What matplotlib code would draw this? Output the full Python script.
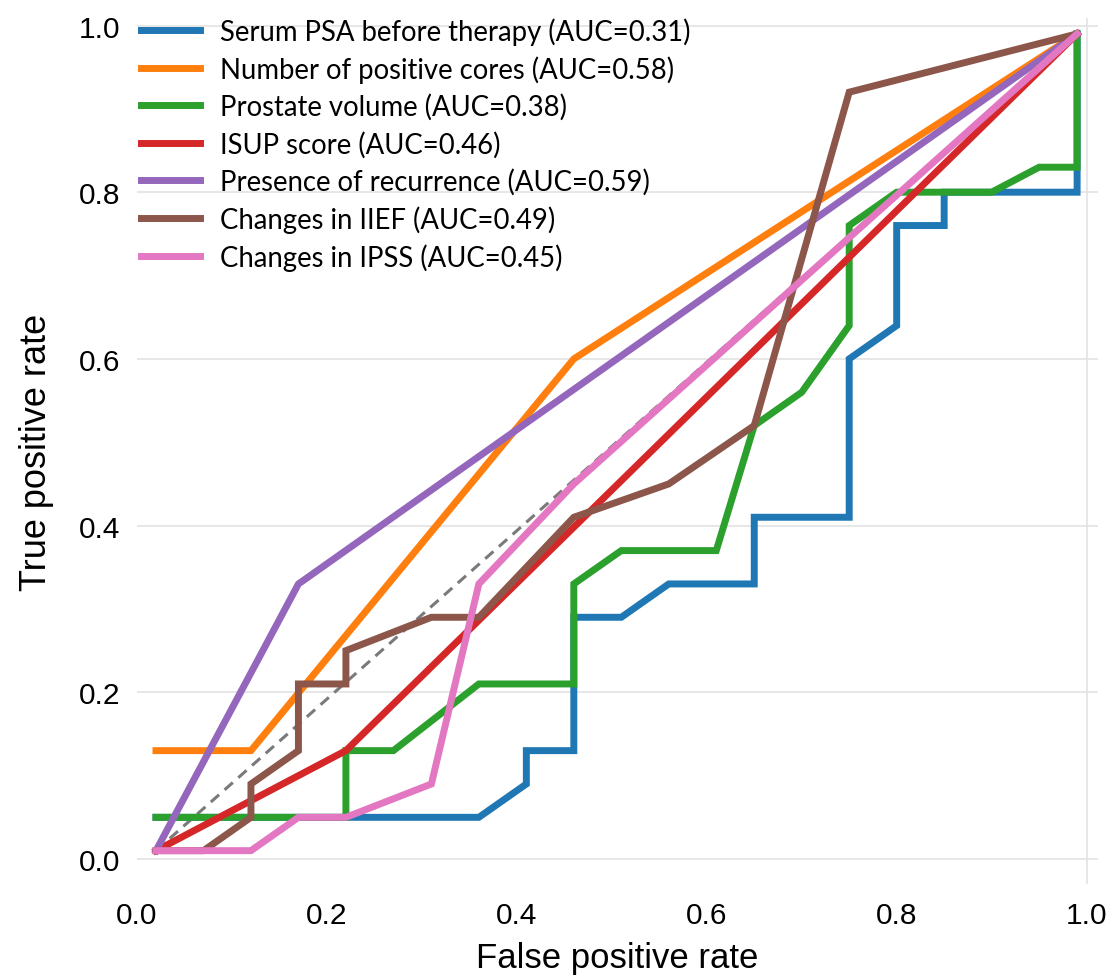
import matplotlib
matplotlib.use("Agg")
import matplotlib.pyplot as plt

# ---- data ----
labels = [
    "Serum PSA before therapy (AUC=0.31)",
    "Number of positive cores (AUC=0.58)",
    "Prostate volume (AUC=0.38)",
    "ISUP score (AUC=0.46)",
    "Presence of recurrence (AUC=0.59)",
    "Changes in IIEF (AUC=0.49)",
    "Changes in IPSS (AUC=0.45)",
]
colors = ["#1f77b4", "#ff7f0e", "#2ca02c", "#d62728", "#9467bd", "#8c564b", "#e377c2"]

psa_x = [0.02, 0.22, 0.36, 0.41, 0.41, 0.46, 0.46, 0.51, 0.56, 0.65, 0.65, 0.75, 0.75, 0.80, 0.80, 0.85, 0.85, 0.99, 0.99]
psa_y = [0.05, 0.05, 0.05, 0.09, 0.13, 0.13, 0.29, 0.29, 0.33, 0.33, 0.41, 0.41, 0.60, 0.64, 0.76, 0.76, 0.80, 0.80, 0.99]

cores_x = [0.02, 0.12, 0.46, 0.99]
cores_y = [0.13, 0.13, 0.60, 0.99]

vol_x = [0.02, 0.22, 0.22, 0.27, 0.36, 0.46, 0.46, 0.51, 0.61, 0.65, 0.70, 0.75, 0.75, 0.80, 0.90, 0.95, 0.99, 0.99]
vol_y = [0.05, 0.05, 0.13, 0.13, 0.21, 0.21, 0.33, 0.37, 0.37, 0.52, 0.56, 0.64, 0.76, 0.80, 0.80, 0.83, 0.83, 0.99]

isup_x = [0.02, 0.22, 0.99]
isup_y = [0.01, 0.13, 0.99]

rec_x = [0.02, 0.17, 0.99]
rec_y = [0.01, 0.33, 0.99]

iief_x = [0.02, 0.07, 0.12, 0.12, 0.17, 0.17, 0.22, 0.22, 0.31, 0.36, 0.46, 0.56, 0.65, 0.75, 0.99]
iief_y = [0.01, 0.01, 0.05, 0.09, 0.13, 0.21, 0.21, 0.25, 0.29, 0.29, 0.41, 0.45, 0.52, 0.92, 0.99]

ipss_x = [0.02, 0.12, 0.17, 0.22, 0.31, 0.36, 0.46, 0.99]
ipss_y = [0.01, 0.01, 0.05, 0.05, 0.09, 0.33, 0.45, 0.99]

chance_x = [0.02, 0.99]
chance_y = [0.01, 0.99]

xticks = [0.0, 0.2, 0.4, 0.6, 0.8, 1.0]
yticks = [0.0, 0.2, 0.4, 0.6, 0.8, 1.0]

series = [(psa_x, psa_y), (cores_x, cores_y), (vol_x, vol_y), (isup_x, isup_y),
          (rec_x, rec_y), (iief_x, iief_y), (ipss_x, ipss_y)]

# ---- figure ----
W, H = 1113, 978
fig = plt.figure(figsize=(W / 100, H / 100), dpi=100)
ax_left, ax_right = 137, 1098
ax_top, ax_bottom = 19, 885
ax = fig.add_axes([ax_left / W, 1 - ax_bottom / H, (ax_right - ax_left) / W, (ax_bottom - ax_top) / H])

ax.set_xlim(0.0, 1.012)
ax.set_ylim(-0.03, 1.009)

for s in ax.spines.values():
    s.set_visible(False)

ax.set_xticks(xticks)
ax.set_yticks(yticks)
ax.set_xticklabels([f"{t:.1f}" for t in xticks])
ax.set_yticklabels([f"{t:.1f}" for t in yticks])
ax.tick_params(axis="both", length=0, labelsize=21.5, pad=12)
for lab in ax.get_xticklabels() + ax.get_yticklabels():
    lab.set_fontfamily("Liberation Sans")

ax.yaxis.grid(True, color="#e3e3e3", linewidth=1.2)
ax.xaxis.grid(False)
ax.axvline(1.0, color="#e3e3e3", linewidth=1.2, zorder=0)
ax.set_axisbelow(True)

ax.plot(chance_x, chance_y, linestyle=(0, (3.6, 2.4)), color="#7a7a7a", linewidth=2.2, zorder=1)

for (xs, ys), c, lab in zip(series, colors, labels):
    ax.plot(xs, ys, color=c, linewidth=5.0, label=lab, solid_joinstyle="miter", zorder=2)

ax.set_xlabel("False positive rate", fontsize=25, family="Liberation Sans", labelpad=9)
ax.set_ylabel("True positive rate", fontsize=26, family="Liberation Sans", labelpad=18)

leg = fig.legend(loc="upper left", bbox_to_anchor=(141 / W, 1 - 18 / H), frameon=False,
                 prop={"family": "Lato", "size": 19.8}, handlelength=2.15, handletextpad=0.72,
                 labelspacing=0.38, borderpad=0, borderaxespad=0)
for l in leg.get_lines():
    l.set_linewidth(5.0)

fig.savefig("out.png", dpi=100)
